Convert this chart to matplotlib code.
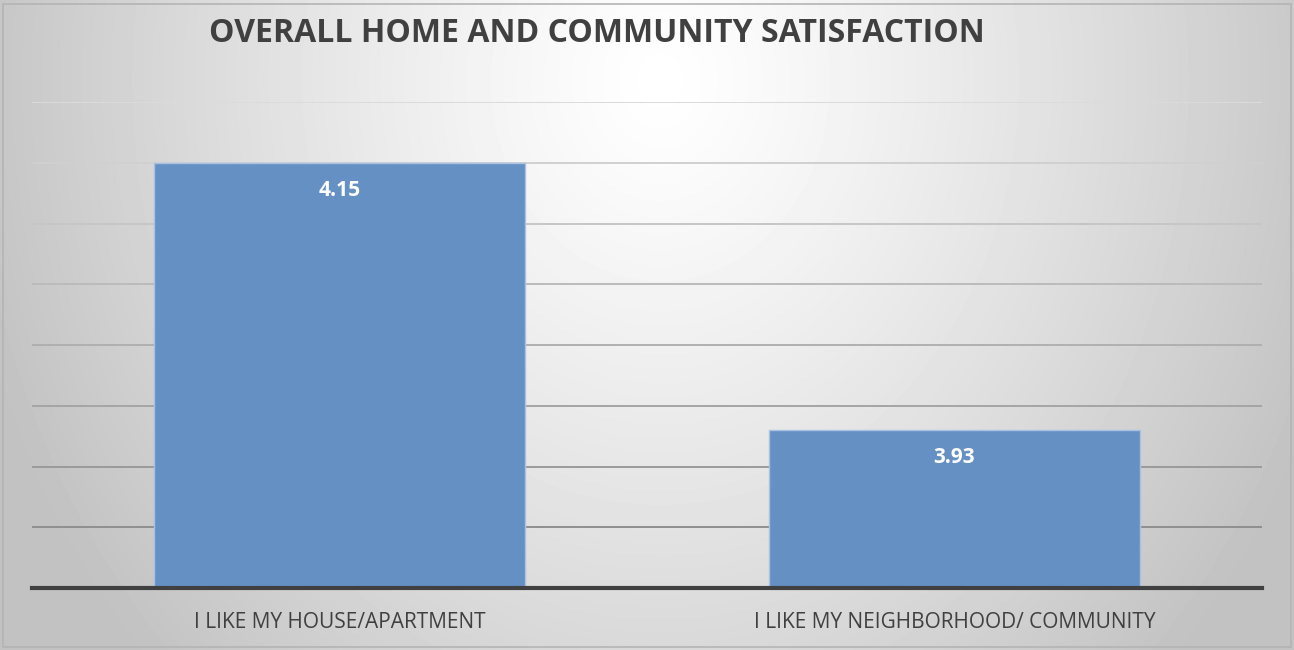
import numpy as np
import matplotlib.pyplot as plt
from matplotlib.patches import Rectangle

categories = ["I LIKE MY HOUSE/APARTMENT", "I LIKE MY NEIGHBORHOOD/ COMMUNITY"]
scores = [4.15, 3.93]
y_min, y_max, y_step = 3.80, 4.20, 0.05
title = "OVERALL HOME AND COMMUNITY SATISFACTION"

W, H = 1294, 650
fig = plt.figure(figsize=(W / 100, H / 100), dpi=100)

# radial grey gradient background, brightest near top centre
bg = fig.add_axes([0, 0, 1, 1], zorder=0)
yy, xx = np.mgrid[0:H, 0:W]
d = np.sqrt(((xx - 660) / 760.0) ** 2 + ((yy - 80) / 900.0) ** 2)
shade = np.clip(1.0 - 0.26 * d ** 1.2, 0.76, 1.0)
bg.imshow(shade, cmap="gray", vmin=0, vmax=1, extent=[0, W, H, 0], aspect="auto")
bg.set_xlim(0, W)
bg.set_ylim(H, 0)
bg.axis("off")
bg.add_patch(Rectangle((2.5, 3.5), W - 6, H - 7, fill=False, edgecolor="#b4b4b4", lw=1.2))

left, right, top, base = 32, 1262, 102, 588
ax = fig.add_axes([left / W, 1 - base / H, (right - left) / W, (base - top) / H], zorder=1)
ax.set_facecolor("none")

x = np.arange(len(categories))
ax.set_xlim(-0.5, len(categories) - 0.5)
ax.set_ylim(y_min, y_max)

# horizontal gridlines, lighter toward the bright top of the chart
ticks = np.arange(y_min + y_step, y_max + y_step / 2, y_step)
for t in ticks:
    f = (t - y_min) / (y_max - y_min)
    g = 0.52 + 0.34 * f
    ax.axhline(t, color=(g, g, g), lw=1.4, zorder=1)

ax.bar(x, [s - y_min for s in scores], bottom=y_min, width=0.603,
       color="#6590c4", edgecolor="#a9c2e2", lw=1.0, zorder=2)

for xi, s in zip(x, scores):
    ax.annotate(f"{s:.2f}", (xi, s), xytext=(0, -20), textcoords="offset points",
                ha="center", va="center", color="white", fontsize=15,
                fontweight="bold", family="Open Sans", zorder=3)

ax.axhline(y_min, color="#404040", lw=3, zorder=4, clip_on=False)

ax.set_xticks(x)
ax.set_xticklabels(categories, fontsize=15, color="#404040", family="Open Sans")
ax.tick_params(axis="x", length=0, pad=17)
ax.set_yticks([])
for sp in ax.spines.values():
    sp.set_visible(False)

fig.text(597 / W, 1 - 33 / H, title, ha="center", va="center", fontsize=23,
         fontweight="bold", color="#404040", family="Open Sans")

fig.savefig("out.png", dpi=100)
